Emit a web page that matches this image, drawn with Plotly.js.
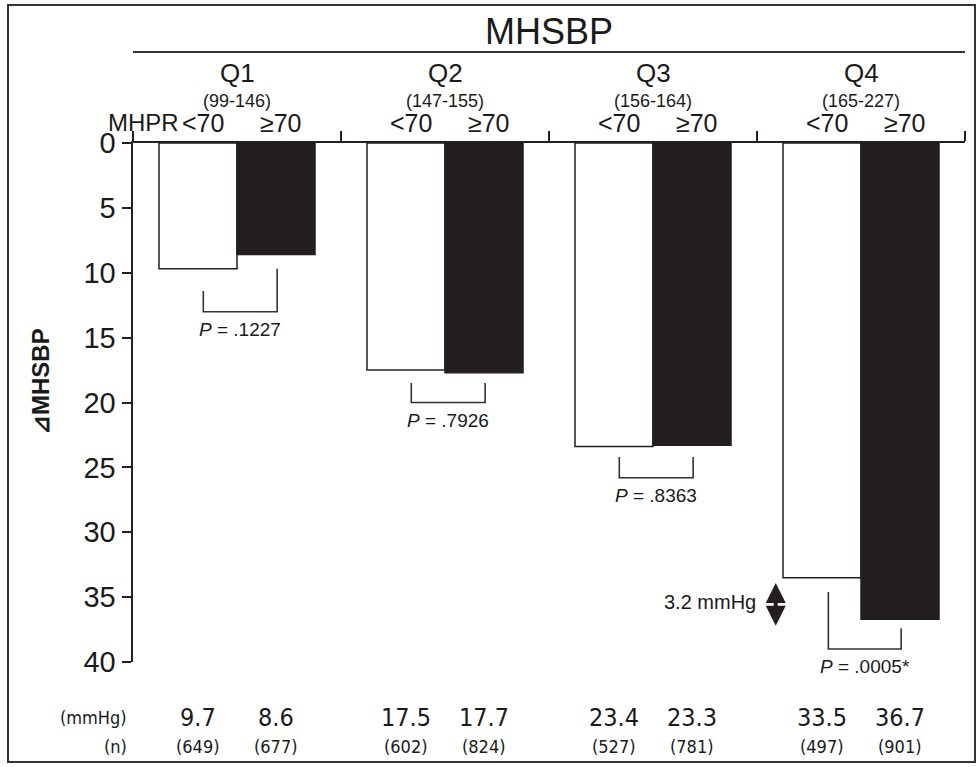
<!DOCTYPE html>
<html>
<head>
<meta charset="utf-8">
<script src="https://cdn.plot.ly/plotly-3.0.1.min.js"></script>
<style>
  html, body { margin: 0; padding: 0; background: #ffffff; }
  #chart { width: 980px; height: 767px; }
</style>
</head>
<body>
<div id="chart"></div>
<script>
// ---- data ----
const groups = ['Q1', 'Q2', 'Q3', 'Q4'];
const groupRanges = ['(99-146)', '(147-155)', '(156-164)', '(165-227)'];
const seriesNames = ['<70', '≥70'];
const deltaLow = [9.7, 17.5, 23.4, 33.5];   // MHPR < 70
const deltaHigh = [8.6, 17.7, 23.3, 36.7];  // MHPR >= 70
const nLow = [649, 602, 527, 497];
const nHigh = [677, 824, 781, 901];
const pValues = ['.1227', '.7926', '.8363', '.0005*'];
const bracketLeftTop = [11.4, 18.5, 24.2, 34.6];
const bracketRightTop = [9.7, 18.5, 24.2, 37.4];
const bracketBottom = [13.0, 20.0, 25.8, 39.0];
const diffLabel = '3.2 mmHg';
const yTicks = [0, 5, 10, 15, 20, 25, 30, 35, 40];

// ---- layout helpers ----
const W = 980, H = 767;
const plotL = 133, plotR = 965, plotT = 143, plotB = 662;
const pxToPaperY = py => (plotB - py) / (plotB - plotT);
const pxToPaperX = px => (px - plotL) / (plotR - plotL);
const gx = groups.map((g, i) => i);
const off = 0.1875;
const ink = '#231f20';
const txt = '#1a1a1a';
const font = 'Liberation Sans, Arial, sans-serif';
const narrow = 'Liberation Sans Narrow, Arial Narrow, DejaVu Sans Condensed, sans-serif';

const traces = [
  { type: 'bar', x: gx, y: deltaLow, name: seriesNames[0],
    marker: { color: '#ffffff', line: { color: ink, width: 1.5 } }, hoverinfo: 'skip' },
  { type: 'bar', x: gx, y: deltaHigh, name: seriesNames[1],
    marker: { color: ink, line: { color: ink, width: 1.5 } }, hoverinfo: 'skip' }
];

const shapes = [];
const annotations = [];
function label(o) {
  annotations.push(Object.assign({ showarrow: false, xanchor: 'center', yanchor: 'middle' }, o));
}

// outer frame
shapes.push({ type: 'rect', xref: 'paper', yref: 'paper',
  x0: pxToPaperX(8), x1: pxToPaperX(975), y0: pxToPaperY(762), y1: pxToPaperY(5),
  line: { color: '#333333', width: 2 }, layer: 'below' });
// header rule
shapes.push({ type: 'line', xref: 'x', yref: 'paper', x0: -0.5, x1: 3.5,
  y0: pxToPaperY(52), y1: pxToPaperY(52), line: { color: '#333333', width: 2 } });

label({ text: 'MHSBP', xref: 'x', yref: 'paper', x: 1.5, y: pxToPaperY(31),
  font: { family: font, size: 36, color: txt } });
label({ text: 'MHPR', xref: 'x', yref: 'paper', x: (181 - plotL) / 208 - 0.5,
  y: pxToPaperY(122), xanchor: 'right', font: { family: font, size: 24, color: txt } });

groups.forEach((g, i) => {
  label({ text: g, xref: 'x', yref: 'paper', x: i, y: pxToPaperY(73),
    font: { family: font, size: 26, color: txt } });
  label({ text: groupRanges[i], xref: 'x', yref: 'paper', x: i, y: pxToPaperY(101),
    font: { family: font, size: 18, color: txt } });
  label({ text: seriesNames[0], xref: 'x', yref: 'paper', x: i - off, xshift: 5,
    y: pxToPaperY(123), font: { family: font, size: 25, color: txt } });
  label({ text: seriesNames[1], xref: 'x', yref: 'paper', x: i + off, xshift: 5,
    y: pxToPaperY(123), font: { family: font, size: 25, color: txt } });
  // values & n
  label({ text: deltaLow[i].toFixed(1), xref: 'x', yref: 'paper', x: i - off,
    y: pxToPaperY(717), font: { family: narrow, size: 25, color: txt } });
  label({ text: deltaHigh[i].toFixed(1), xref: 'x', yref: 'paper', x: i + off,
    y: pxToPaperY(717), font: { family: narrow, size: 25, color: txt } });
  label({ text: '(' + nLow[i] + ')', xref: 'x', yref: 'paper', x: i - off,
    y: pxToPaperY(746), font: { family: narrow, size: 18, color: txt } });
  label({ text: '(' + nHigh[i] + ')', xref: 'x', yref: 'paper', x: i + off,
    y: pxToPaperY(746), font: { family: narrow, size: 18, color: txt } });
  // brackets
  const xl = i - (i === 3 ? 0.157 : 0.162), xr = i + 0.193;
  shapes.push({ type: 'path', xref: 'x', yref: 'y',
    path: `M ${xl} ${bracketLeftTop[i]} L ${xl} ${bracketBottom[i]} L ${xr} ${bracketBottom[i]} L ${xr} ${bracketRightTop[i]}`,
    line: { color: '#333333', width: 1.6 } });
  label({ text: '<i>P</i> = ' + pValues[i], xref: 'x', yref: 'y',
    x: (xl + xr) / 2, y: bracketBottom[i], yanchor: 'top', yshift: -5,
    font: { family: font, size: 19, color: txt } });
});

label({ text: '(mmHg)', xref: 'paper', yref: 'paper', x: pxToPaperX(129),
  y: pxToPaperY(717), xanchor: 'right', font: { family: narrow, size: 18, color: txt } });
label({ text: '(n)', xref: 'paper', yref: 'paper', x: pxToPaperX(129),
  y: pxToPaperY(746), xanchor: 'right', font: { family: narrow, size: 18, color: txt } });

// difference arrow
const arrowX = 3 - 0.41;
annotations.push({ text: '', xref: 'x', yref: 'y', axref: 'x', ayref: 'y',
  x: arrowX, y: deltaHigh[3] + 0.5, ax: arrowX, ay: deltaLow[3] + 0.3,
  showarrow: true, arrowhead: 2, arrowside: 'end+start', arrowsize: 1, arrowwidth: 4,
  arrowcolor: ink });
label({ text: diffLabel, xref: 'x', yref: 'y', x: arrowX, xshift: -18,
  y: (deltaLow[3] + deltaHigh[3]) / 2 + 0.3, xanchor: 'right',
  font: { family: font, size: 20, color: txt } });

// y title
label({ text: '<b>⊿MHSBP</b>', xref: 'paper', yref: 'paper', x: pxToPaperX(40),
  y: pxToPaperY(382), textangle: -90, font: { family: font, size: 24, color: txt } });

const layout = {
  width: W, height: H,
  margin: { l: plotL, r: W - plotR, t: plotT, b: H - plotB, pad: 0 },
  paper_bgcolor: '#ffffff', plot_bgcolor: '#ffffff',
  showlegend: false,
  barmode: 'group', bargap: 0.25, bargroupgap: 0,
  xaxis: {
    range: [-0.5, 3.5], side: 'top', showline: true, linecolor: ink, linewidth: 2.5,
    tickvals: [-0.5, 0.5, 1.5, 2.5, 3.5], ticktext: ['', '', '', '', ''],
    ticks: 'outside', ticklen: 10, tickwidth: 2, tickcolor: ink,
    showgrid: false, zeroline: false, fixedrange: true
  },
  yaxis: {
    range: [40, 0], showline: true, linecolor: ink, linewidth: 2.5,
    tickvals: yTicks, ticks: 'outside', ticklen: 9, tickwidth: 2, tickcolor: ink,
    tickfont: { family: font, size: 29, color: txt },
    showgrid: false, zeroline: false, fixedrange: true
  },
  shapes: shapes,
  annotations: annotations
};

Plotly.newPlot('chart', traces, layout, { displayModeBar: false, staticPlot: true });
</script>
</body>
</html>
